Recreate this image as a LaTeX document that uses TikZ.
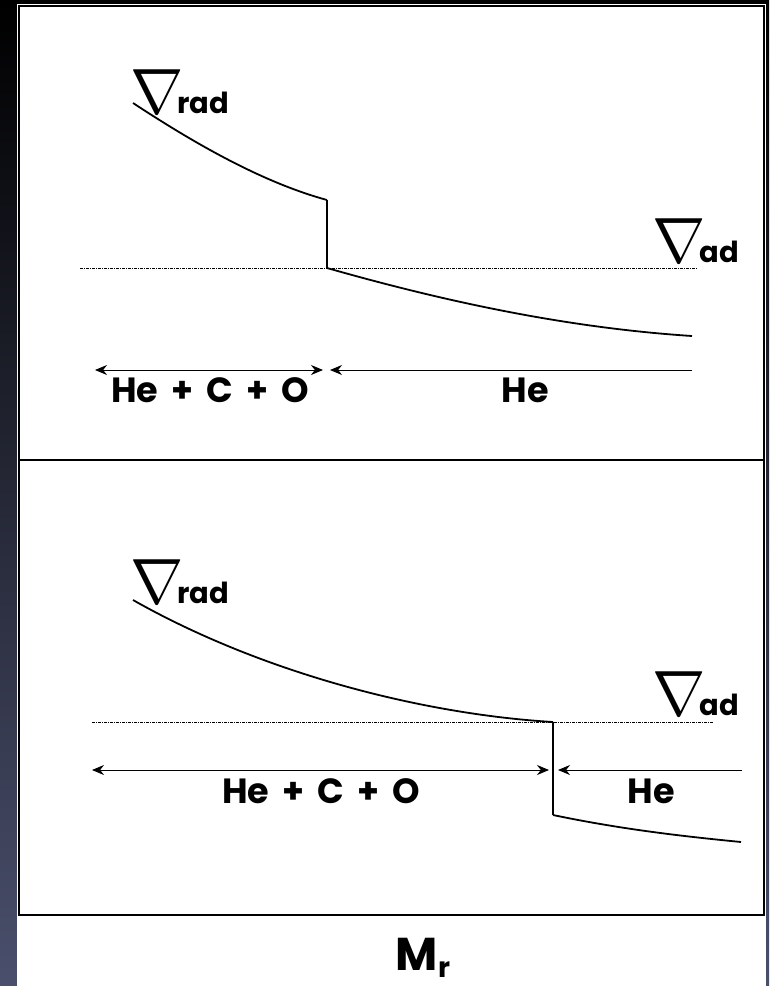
\RequirePackage{fix-cm}
\documentclass[tikz,border=0pt]{standalone}
\usepackage{fontspec}
\usepackage{tikz}
\usetikzlibrary{arrows.meta,calc}
\newfontfamily\labfont{Poppins}
\definecolor{slate}{RGB}{74,79,108}
\definecolor{navy}{RGB}{32,32,60}
\tikzset{
  lab/.style={font=\labfont\bfseries\fontsize{35}{35}\selectfont, inner sep=0pt,
              execute at begin node={\spaceskip=13pt\relax}},
  grad/.style={inner sep=0pt},
  prof/.style={line width=1.8pt},
  jump/.style={line width=1.1pt},
  adline/.style={line width=0.8pt, dash pattern=on 3pt off 1pt on 1pt off 1pt},
  dimarr/.style={-{Stealth[length=12pt,width=10pt]}, line width=0.9pt},
  dimarrs/.style={{Stealth[length=12pt,width=10pt]}-{Stealth[length=12pt,width=10pt]}, line width=0.9pt},
  frame/.style={line width=1.6pt, draw=black},
}
\newcommand{\gradlab}[1]{{\fontsize{64}{64}\selectfont$\nabla$}\kern-6pt{\labfont\bfseries\fontsize{29}{29}\selectfont #1}}

\begin{document}
\begin{tikzpicture}[x=1pt,y=-1pt]
\useasboundingbox (0,0) rectangle (769,986);
% backdrop and frame
\shade[top color=black, middle color=navy, bottom color=slate] (0,0) rectangle (769,986);
\fill[white] (17,4) rectangle (766,986);
\draw[frame] (19,6) rectangle (764,915);
\draw[frame] (19,460) -- (764,460);

% upper panel
\coordinate (u0) at (133,103);
\coordinate (u1) at (327,200);
\coordinate (u2) at (327,268);
\coordinate (u3) at (692,336);
\coordinate (ua) at (80,268);
\coordinate (ub) at (698,268);
\draw[adline] (ua) -- (ub);
\draw[prof] (u0) .. controls (200,147) and (265,183) .. (u1);
\draw[jump] (u1) -- (u2);
\draw[prof] (u2) .. controls (450,303) and (570,328) .. (u3);
\node[grad, anchor=base west] (rad1) at (130,113) {\gradlab{rad}};
\node[grad, anchor=base west] (ad1) at (652,262) {\gradlab{ad}};
\coordinate (ul) at (95,370);
\coordinate (um) at (323,370);
\coordinate (un) at (330,370);
\coordinate (ur) at (692,370);
\draw[dimarrs] (ul) -- (um);
\draw[dimarr] (ur) -- (un);
\node[lab, anchor=base] (mix1) at (210,402) {He + C + O};
\node[lab, anchor=base] (he1) at (525,402) {He};

% lower panel
\coordinate (l0) at (133,600);
\coordinate (l1) at (553,722);
\coordinate (l2) at (553,815);
\coordinate (l3) at (741,842);
\coordinate (la) at (92,722);
\coordinate (lb) at (713,722);
\draw[adline] (la) -- (lb);
\draw[prof] (l0) .. controls (260,672) and (420,714) .. (l1);
\draw[jump] (l1) -- (l2);
\draw[prof] (l2) .. controls (620,829) and (680,836) .. (l3);
\node[grad, anchor=base west] (rad2) at (130,603) {\gradlab{rad}};
\node[grad, anchor=base west] (ad2) at (652,715) {\gradlab{ad}};
\coordinate (ll) at (92,770);
\coordinate (lm) at (549,770);
\coordinate (ln) at (558,770);
\coordinate (lr) at (742,770);
\draw[dimarrs] (ll) -- (lm);
\draw[dimarr] (lr) -- (ln);
\node[lab, anchor=base] (mix2) at (321,803) {He + C + O};
\node[lab, anchor=base] (he2) at (651,803) {He};

% axis label
\node[lab, font=\labfont\bfseries\fontsize{46}{46}\selectfont, anchor=base] (mr) at (423,970)
  {M\raisebox{-7pt}{\fontsize{28}{28}\selectfont r}};
\end{tikzpicture}
\end{document}
